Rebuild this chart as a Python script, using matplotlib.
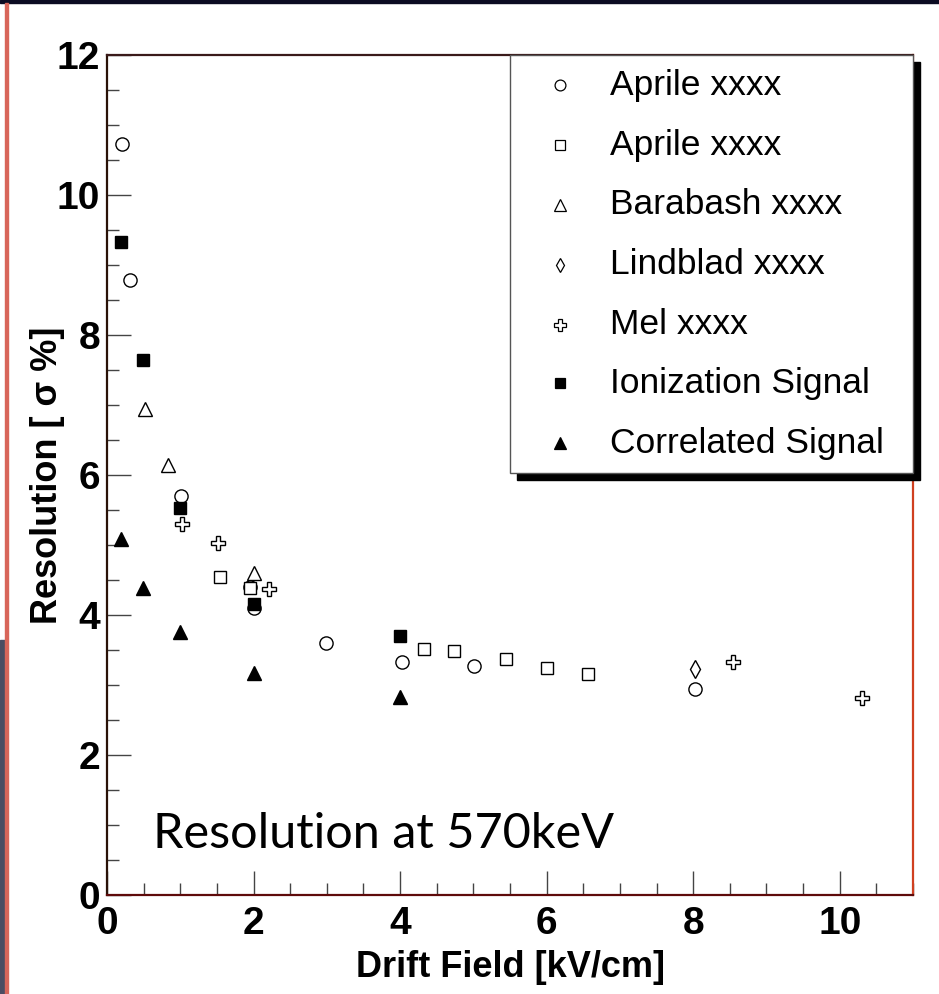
# Energieaufloesung gegen Driftfeld
import matplotlib.pyplot as plt
from matplotlib.patches import Rectangle

# Aprile (Kreise)
aprile1_x = [0.2, 0.31, 1.01, 1.95, 2.0, 2.99, 4.02, 5.01, 8.02]
aprile1_y = [10.73, 8.79, 5.70, 4.40, 4.10, 3.60, 3.33, 3.27, 2.94]
# Aprile (Quadrate)
aprile2_x = [1.54, 1.95, 4.32, 4.74, 5.45, 6.0, 6.56]
aprile2_y = [4.54, 4.39, 3.51, 3.49, 3.37, 3.25, 3.16]
# Barabash
barabash_x = [0.52, 0.83, 2.0]
barabash_y = [6.94, 6.14, 4.60]
# Lindblad
lindblad_x = [8.03]
lindblad_y = [3.23]
# Mel
mel_x = [1.03, 1.51, 2.21, 8.54, 10.30]
mel_y = [5.30, 5.03, 4.37, 3.33, 2.81]
# eigene Messung
ion_x = [0.19, 0.49, 1.0, 2.0, 4.0]
ion_y = [9.33, 7.64, 5.53, 4.16, 3.70]
corr_x = [0.19, 0.49, 1.0, 2.0, 4.0]
corr_y = [5.09, 4.39, 3.76, 3.17, 2.83]

labels = ["Aprile xxxx", "Aprile xxxx", "Barabash xxxx", "Lindblad xxxx",
          "Mel xxxx", "Ionization Signal", "Correlated Signal"]

series = [
    (aprile1_x, aprile1_y, "o", "white", 9.5),
    (aprile2_x, aprile2_y, "s", "white", 9.0),
    (barabash_x, barabash_y, "^", "white", 10.0),
    (lindblad_x, lindblad_y, "d", "white", 9.0),
    (mel_x, mel_y, "P", "white", 10.0),
    (ion_x, ion_y, "s", "black", 9.0),
    (corr_x, corr_y, "^", "black", 10.0),
]

fig = plt.figure(figsize=(9.39, 9.94), dpi=100)
W, H = 939, 994

# Rahmen der Folie
fig.patches.append(Rectangle((0, 1 - 3 / H), 1, 3 / H, transform=fig.transFigure,
                             color="#0b0b22", zorder=0))
fig.patches.append(Rectangle((0, 0), 5 / W, 1 - 640 / H, transform=fig.transFigure,
                             color="#4b4d62", zorder=0))
fig.patches.append(Rectangle((5 / W, 0), 2.5 / W, 1 - 3 / H, transform=fig.transFigure,
                             color="#d8665a", zorder=0))

ax = fig.add_axes([107 / W, 1 - 895 / H, 806 / W, 840 / H])

for (x, y, m, fc, ms), lab in zip(series, labels):
    ax.plot(x, y, m, ls="none", mfc=fc, mec="black", mew=1.0, ms=ms,
            label=lab, clip_on=False, zorder=3)

ax.set_xlim(0, 11)
ax.set_ylim(0, 12)
ax.set_xticks([0, 2, 4, 6, 8, 10])
ax.set_yticks([0, 2, 4, 6, 8, 10, 12])
ax.set_xticks([i * 0.5 for i in range(23)], minor=True)
ax.set_yticks([i * 0.5 for i in range(25)], minor=True)

tick_font = dict(family="Liberation Sans", weight="bold", size=28)
ax.set_xticklabels(["0", "2", "4", "6", "8", "10"], fontdict=tick_font)
ax.set_yticklabels(["0", "2", "4", "6", "8", "10", "12"], fontdict=tick_font)
ax.tick_params(which="both", direction="in", top=False, right=False,
               color="#444444", width=1.0)
ax.tick_params(which="major", length=17)
ax.tick_params(which="minor", length=8.5)
ax.tick_params(axis="x", pad=8)
ax.tick_params(axis="y", pad=5)

ax.spines["left"].set_color("#2a1208")
ax.spines["bottom"].set_color("#5e0a0a")
ax.spines["top"].set_color("#3a1a1a")
ax.spines["right"].set_color("#d04020")
for s in ax.spines.values():
    s.set_linewidth(1.6)

ax.set_xlabel("Drift Field [kV/cm]", family="Liberation Sans", weight="bold",
              size=26, labelpad=6)
ax.set_ylabel("Resolution [ σ %]", family="Liberation Sans", weight="bold",
              size=26)
ax.yaxis.set_label_coords(-0.052, 0.5)

ax.text(0.057, 0.056, "Resolution at 570keV", transform=ax.transAxes,
        family="Lato", size=35, ha="left", va="baseline")

# Legende mit Schatten
x0, y0 = 0.5, 0.502
ax.add_patch(Rectangle((x0 + 7 / 806, y0 - 7 / 840), 1 - x0, 1 - y0,
                       transform=ax.transAxes, color="black", clip_on=False, zorder=5))
ax.add_patch(Rectangle((x0, y0), 1 - x0, 1 - y0, transform=ax.transAxes,
                       facecolor="white", edgecolor="#555555", lw=1.0,
                       clip_on=False, zorder=6))
rows = [85, 145, 205, 265, 325, 383, 443]
for (x, y, m, fc, ms), lab, r in zip(series, labels, rows):
    yy = (895 - r) / 840
    ax.plot([(560 - 107) / 806], [yy], m, mfc=fc, mec="black", mew=0.9,
            ms=ms * 0.82, transform=ax.transAxes, clip_on=False, zorder=7)
    ax.text((610 - 107) / 806, yy, lab, transform=ax.transAxes,
            family="Liberation Sans", size=25.5, va="center", ha="left", zorder=7)

plt.savefig("out.png", dpi=100)
